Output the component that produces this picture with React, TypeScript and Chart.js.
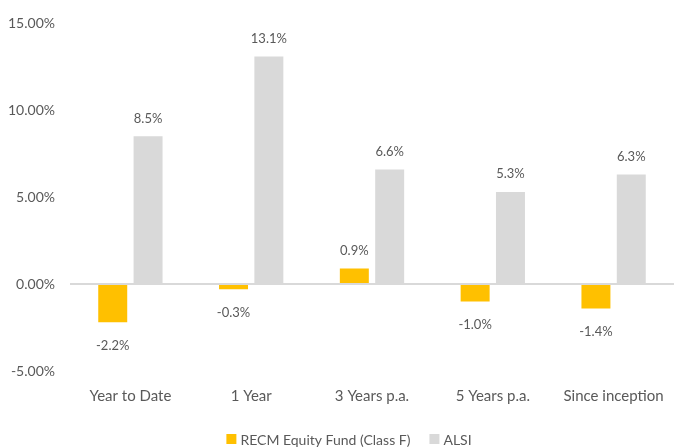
import React, { useEffect, useRef } from "react";
import { Chart, registerables } from "chart.js";

Chart.register(...registerables);

const categories = ["Year to Date", "1 Year", "3 Years p.a.", "5 Years p.a.", "Since inception"];
const fundValues = [-2.2, -0.3, 0.9, -1.0, -1.4];
const alsiValues = [8.5, 13.1, 6.6, 5.3, 6.3];
const seriesNames = ["RECM Equity Fund (Class F)", "ALSI"];
const seriesColors = ["#FFC000", "#D9D9D9"];
const yTicks = [-5, 0, 5, 10, 15];

const FONT = "Lato, 'Open Sans', sans-serif";
const TEXT = "#595959";

const labelPlugin = {
  id: "barLabels",
  afterDatasetsDraw(chart: any) {
    const ctx = chart.ctx;
    ctx.save();
    ctx.font = `13px ${FONT}`;
    ctx.fillStyle = TEXT;
    ctx.textAlign = "center";
    ctx.textBaseline = "middle";
    chart.data.datasets.forEach((ds: any, di: number) => {
      const meta = chart.getDatasetMeta(di);
      meta.data.forEach((bar: any, i: number) => {
        const v = ds.data[i];
        const y = v >= 0 ? bar.y - 18 : bar.y + 23;
        ctx.fillText(v.toFixed(1) + "%", bar.x, y);
      });
    });
    ctx.restore();
  },
};

const legendPlugin = {
  id: "customLegend",
  afterDraw(chart: any) {
    const ctx = chart.ctx;
    ctx.save();
    ctx.font = `14px ${FONT}`;
    ctx.textBaseline = "middle";
    ctx.textAlign = "left";
    const box = 10;
    const gapText = 4;
    const gapItem = 19;
    const items = chart.data.datasets.map((ds: any) => ({
      label: ds.label,
      color: ds.backgroundColor,
      w: box + gapText + ctx.measureText(ds.label).width,
    }));
    const total = items.reduce((s: number, it: any) => s + it.w, 0) + gapItem * (items.length - 1);
    const cx = 349;
    const cy = chart.height - 8;
    let x = cx - total / 2;
    items.forEach((it: any) => {
      ctx.fillStyle = it.color;
      ctx.fillRect(x, cy - box / 2, box, box);
      ctx.fillStyle = TEXT;
      ctx.fillText(it.label, x + box + gapText, cy + 1);
      x += it.w + gapItem;
    });
    ctx.restore();
  },
};

export default function App() {
  const ref = useRef<HTMLCanvasElement>(null);
  useEffect(() => {
    const chart = new Chart(ref.current!, {
      type: "bar",
      data: {
        labels: categories,
        datasets: [
          { label: seriesNames[0], data: fundValues, backgroundColor: seriesColors[0], barPercentage: 0.82, categoryPercentage: 0.585 },
          { label: seriesNames[1], data: alsiValues, backgroundColor: seriesColors[1], barPercentage: 0.82, categoryPercentage: 0.585 },
        ],
      },
      options: {
        animation: false,
        responsive: false,
        maintainAspectRatio: false,
        layout: { padding: { top: 18, right: -4, left: 0, bottom: 34 } },
        plugins: {
          legend: { display: false },
          tooltip: { enabled: false },
        },
        scales: {
          x: {
            grid: { display: false },
            border: { display: false },
            ticks: { font: { family: FONT, size: 15 }, color: TEXT, padding: 8 },
          },
          y: {
            min: -5,
            max: 15,
            afterBuildTicks(axis: any) {
              axis.ticks = yTicks.map((v) => ({ value: v }));
            },
            afterFit(axis: any) {
              axis.width = 70;
            },
            grid: {
              drawTicks: false,
              color: (c: any) => (c.tick && c.tick.value === 0 ? "#D9D9D9" : "rgba(0,0,0,0)"),
              lineWidth: 2,
            },
            border: { display: false },
            ticks: {
              font: { family: FONT, size: 14 },
              color: TEXT,
              padding: 15,
              callback: (v: any) => Number(v).toFixed(2) + "%",
            },
          },
        },
      },
      plugins: [labelPlugin, legendPlugin],
    });
    return () => chart.destroy();
  }, []);
  return (
    <div style={{ position: "fixed", left: 0, top: 0, width: 674, height: 447, background: "#fff" }}>
      <canvas ref={ref} width={674} height={447} />
    </div>
  );
}
